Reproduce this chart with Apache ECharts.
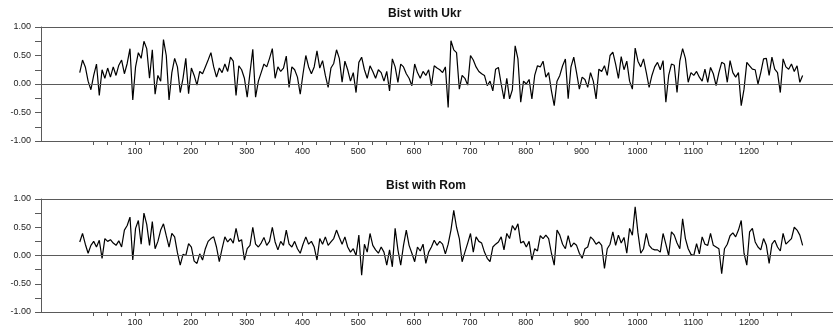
<!DOCTYPE html>
<html>
<head>
<meta charset="utf-8">
<script src="https://cdn.jsdelivr.net/npm/echarts@6/dist/echarts.min.js"></script>
<style>
  html, body { margin: 0; padding: 0; background: #fff; }
  #app { width: 833px; height: 334px; }
</style>
</head>
<body>
<div id="app"></div>
<script>
// observation number of each value (every 5th observation, starting at 1)
const obsStart = 1;
const obsStep = 5;

// rolling correlation, Bist with Ukr
const ukrValues = [
  0.20, 0.42, 0.30, 0.05, -0.10, 0.15, 0.35, -0.20, 0.25, 0.10, 0.28, 0.12, 0.30, 0.15, 0.33, 0.42, 0.18, 0.36, 0.62, -0.28,
  0.30, 0.55, 0.45, 0.75, 0.62, 0.10, 0.60, -0.18, 0.15, 0.05, 0.78, 0.50, -0.28, 0.20, 0.45, 0.30, -0.15, 0.10, 0.45, -0.17,
  0.28, 0.15, -0.02, 0.22, 0.18, 0.30, 0.42, 0.55, 0.30, 0.12, 0.28, 0.20, 0.35, 0.22, 0.47, 0.40, -0.20, 0.32, 0.25, 0.10,
  -0.23, 0.20, 0.61, -0.23, 0.05, 0.20, 0.35, 0.30, 0.45, 0.62, 0.10, 0.30, 0.22, 0.28, 0.49, -0.06, 0.30, 0.25, 0.12, -0.18,
  0.18, 0.50, 0.30, 0.18, 0.30, 0.58, 0.28, 0.41, 0.15, -0.06, 0.28, 0.36, 0.60, 0.45, 0.03, 0.40, 0.25, 0.05, 0.20, -0.15,
  0.38, 0.47, 0.25, 0.10, 0.32, 0.22, 0.10, 0.25, 0.20, 0.05, 0.22, -0.12, 0.44, 0.30, 0.03, 0.35, 0.30, 0.18, 0.10, -0.03,
  0.35, 0.20, 0.10, 0.22, 0.15, 0.25, -0.03, 0.32, 0.28, 0.25, 0.20, 0.30, -0.41, 0.76, 0.60, 0.55, -0.09, 0.15, 0.10, -0.02,
  0.50, 0.42, 0.30, 0.22, 0.18, 0.15, -0.03, 0.05, -0.12, 0.26, 0.29, 0.00, -0.26, 0.10, -0.26, -0.10, 0.67, 0.44, -0.32, 0.05,
  0.00, 0.08, -0.26, 0.15, 0.32, 0.30, 0.40, 0.12, 0.20, -0.12, -0.38, 0.05, 0.15, 0.32, 0.44, -0.26, 0.30, 0.47, 0.20, -0.09,
  0.12, 0.08, -0.06, 0.20, 0.05, -0.26, 0.26, 0.22, 0.32, 0.15, 0.50, 0.56, 0.35, 0.10, 0.48, 0.25, 0.40, 0.05, -0.09, 0.63,
  0.40, 0.30, 0.44, 0.20, -0.06, 0.15, 0.30, 0.38, 0.25, 0.41, -0.32, 0.15, 0.35, 0.33, -0.15, 0.40, 0.62, 0.45, 0.03, 0.20,
  0.15, 0.22, 0.12, 0.05, 0.26, 0.03, 0.29, 0.18, -0.03, 0.20, 0.38, 0.35, 0.03, 0.41, 0.20, 0.12, 0.20, -0.38, -0.09, 0.38,
  0.32, 0.26, 0.25, 0.00, 0.20, 0.44, 0.45, 0.15, 0.47, 0.26, 0.20, -0.15, 0.44, 0.30, 0.26, 0.35, 0.22, 0.32, 0.03, 0.15
];

// rolling correlation, Bist with Rom
const romValues = [
  0.24, 0.39, 0.20, 0.04, 0.18, 0.25, 0.15, 0.27, -0.05, 0.30, 0.25, 0.28, 0.22, 0.18, 0.26, 0.15, 0.45, 0.53, 0.68, -0.08,
  0.48, 0.62, 0.20, 0.75, 0.55, 0.18, 0.60, 0.12, 0.25, 0.45, 0.56, 0.35, 0.15, 0.39, 0.33, 0.05, -0.17, 0.02, 0.00, 0.21,
  0.15, -0.10, -0.14, 0.03, -0.08, 0.12, 0.25, 0.30, 0.33, 0.15, -0.11, 0.12, 0.33, 0.24, 0.30, 0.22, 0.48, 0.25, 0.28, -0.08,
  0.12, 0.18, 0.50, 0.20, 0.15, 0.22, 0.32, 0.18, 0.25, 0.50, 0.24, 0.10, 0.25, 0.18, 0.45, 0.20, 0.15, 0.25, 0.12, 0.04,
  0.20, 0.33, 0.20, 0.25, 0.15, -0.08, 0.30, 0.20, 0.33, 0.18, 0.24, 0.30, 0.45, 0.32, 0.20, 0.33, 0.15, 0.06, 0.12, 0.00,
  0.36, -0.35, 0.20, 0.06, 0.39, 0.18, 0.10, 0.04, 0.15, 0.06, -0.17, 0.10, -0.20, 0.48, 0.10, -0.17, 0.18, 0.45, 0.18, 0.04,
  -0.11, 0.15, 0.08, 0.20, -0.14, 0.06, 0.15, 0.27, 0.18, 0.25, 0.20, 0.03, 0.20, 0.45, 0.80, 0.50, 0.30, -0.11, 0.06, 0.22,
  0.39, 0.06, 0.33, 0.25, 0.22, 0.06, -0.05, -0.11, 0.15, 0.20, 0.24, 0.33, 0.10, 0.39, 0.30, 0.53, 0.45, 0.56, 0.22, 0.25,
  0.15, 0.25, -0.08, 0.12, 0.08, 0.35, 0.30, 0.36, 0.30, 0.04, -0.17, 0.45, 0.36, 0.20, 0.12, 0.35, 0.15, 0.22, 0.18, 0.04,
  -0.05, 0.12, 0.15, 0.33, 0.28, 0.20, 0.24, 0.18, -0.23, 0.12, 0.20, 0.42, 0.18, 0.36, 0.22, 0.32, 0.04, 0.48, 0.36, 0.86,
  0.40, 0.04, 0.12, 0.39, 0.18, 0.12, 0.10, 0.10, 0.06, 0.39, 0.20, 0.00, 0.42, 0.36, 0.22, 0.12, 0.65, 0.30, 0.12, 0.02,
  0.00, 0.21, 0.03, 0.33, 0.20, 0.18, 0.39, 0.18, 0.15, 0.12, -0.32, 0.12, 0.20, 0.35, 0.40, 0.33, 0.45, 0.62, 0.04, -0.17,
  0.42, 0.48, 0.24, 0.15, 0.10, 0.30, 0.18, -0.14, 0.20, 0.27, 0.15, 0.08, 0.39, 0.20, 0.25, 0.30, 0.50, 0.45, 0.36, 0.18
];

const titles = ['Bist with Ukr', 'Bist with Rom'];
const xLabelValues = [100, 200, 300, 400, 500, 600, 700, 800, 900, 1000, 1100, 1200];
const xTickValues = [];
for (let t = 25; t <= 1275; t += 25) xTickValues.push(t);

const toPairs = vals => vals.map((v, k) => [obsStart + k * obsStep, v]);

const axisGray = '#5a5a5a';
const font = 'Liberation Sans, Arial, sans-serif';
const grids = [
  {left: 41, right: 0, top: 27, height: 114},
  {left: 41, right: 0, top: 199, height: 113}
];

const xAxes = [];
const yAxes = [];
grids.forEach((g, i) => {
  xAxes.push({
    type: 'value', gridIndex: i, min: -68.4, max: 1350.4,
    axisLine: {show: true, onZero: false, lineStyle: {color: axisGray, width: 1}},
    axisTick: {show: true, customValues: xTickValues, length: 4, lineStyle: {color: axisGray}},
    axisLabel: {
      customValues: xLabelValues, color: '#222', fontSize: 9, fontFamily: font, margin: 6,
      formatter: v => String(v)
    },
    splitLine: {show: false}
  });
  // top frame line
  xAxes.push({
    type: 'value', gridIndex: i, position: 'top', min: -68.4, max: 1350.4,
    axisLine: {show: true, onZero: false, lineStyle: {color: axisGray, width: 1}},
    axisTick: {show: false}, axisLabel: {show: false}, splitLine: {show: false}
  });
  yAxes.push({
    type: 'value', gridIndex: i, min: -1, max: 1, interval: 0.25,
    axisLine: {show: true, onZero: false, lineStyle: {color: axisGray, width: 1}},
    axisTick: {show: true, length: 6, lineStyle: {color: axisGray}},
    axisLabel: {
      color: '#222', fontSize: 9, fontFamily: font, margin: 10,
      formatter: v => (Math.abs(v * 2 - Math.round(v * 2)) < 1e-6 ? v.toFixed(2) : '')
    },
    splitLine: {show: false}
  });
});

const makeSeries = (vals, i) => ({
  type: 'line',
  xAxisIndex: i * 2,
  yAxisIndex: i,
  data: toPairs(vals),
  showSymbol: false,
  animation: false,
  lineStyle: {color: '#000', width: 1.2},
  markLine: {
    silent: true, symbol: ['none', 'none'], label: {show: false},
    lineStyle: {color: axisGray, width: 1, type: 'solid'},
    data: [{yAxis: 0}]
  }
});

const chart = echarts.init(document.getElementById('app'), null, {renderer: 'canvas'});
chart.setOption({
  animation: false,
  backgroundColor: '#fff',
  title: [
    {text: titles[0], left: 388, top: 8, padding: 0,
      textStyle: {fontSize: 12, fontWeight: 'bold', fontFamily: font, color: '#111'}},
    {text: titles[1], left: 386, top: 180, padding: 0,
      textStyle: {fontSize: 12, fontWeight: 'bold', fontFamily: font, color: '#111'}}
  ],
  grid: grids,
  xAxis: xAxes,
  yAxis: yAxes,
  series: [makeSeries(ukrValues, 0), makeSeries(romValues, 1)]
});
</script>
</body>
</html>
